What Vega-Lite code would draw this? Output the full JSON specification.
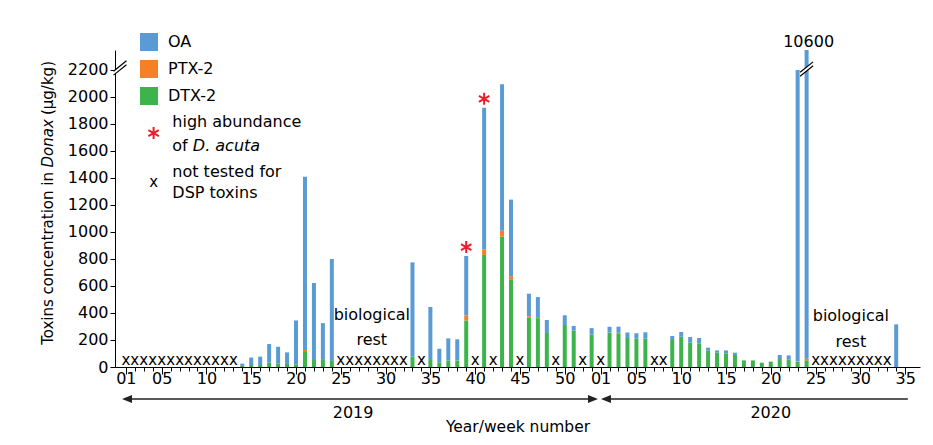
{
  "$schema": "https://vega.github.io/schema/vega-lite/v6.json",
  "width": 805,
  "height": 317,
  "autosize": {"type": "none"},
  "padding": {"left": 115, "top": 50, "right": 13, "bottom": 78},
  "background": "white",
  "config": {
    "font": "DejaVu Sans",
    "view": {"stroke": null},
    "text": {"color": "black"},
    "axis": {"domainColor": "black", "tickColor": "black", "labelColor": "black", "titleColor": "black", "grid": false, "labelFontSize": 16, "domainWidth": 1, "tickWidth": 1, "labelOverlap": false, "labelFlush": false}
  },
  "datasets": {
    "bars": [
      {"year": 2019, "week": 14, "t": 14, "dtx2_top": 8, "ptx2_top": 8, "total": 25},
      {"year": 2019, "week": 15, "t": 15, "dtx2_top": 15, "ptx2_top": 15, "total": 70},
      {"year": 2019, "week": 16, "t": 16, "dtx2_top": 15, "ptx2_top": 15, "total": 77},
      {"year": 2019, "week": 17, "t": 17, "dtx2_top": 33, "ptx2_top": 33, "total": 170},
      {"year": 2019, "week": 18, "t": 18, "dtx2_top": 27, "ptx2_top": 27, "total": 150},
      {"year": 2019, "week": 19, "t": 19, "dtx2_top": 22, "ptx2_top": 22, "total": 108},
      {"year": 2019, "week": 20, "t": 20, "dtx2_top": 20, "ptx2_top": 20, "total": 345},
      {"year": 2019, "week": 21, "t": 21, "dtx2_top": 118, "ptx2_top": 126, "total": 1410},
      {"year": 2019, "week": 22, "t": 22, "dtx2_top": 52, "ptx2_top": 52, "total": 622},
      {"year": 2019, "week": 23, "t": 23, "dtx2_top": 58, "ptx2_top": 58, "total": 325},
      {"year": 2019, "week": 24, "t": 24, "dtx2_top": 45, "ptx2_top": 45, "total": 800},
      {"year": 2019, "week": 33, "t": 33, "dtx2_top": 76, "ptx2_top": 76, "total": 775},
      {"year": 2019, "week": 35, "t": 35, "dtx2_top": 52, "ptx2_top": 52, "total": 445},
      {"year": 2019, "week": 36, "t": 36, "dtx2_top": 35, "ptx2_top": 35, "total": 135},
      {"year": 2019, "week": 37, "t": 37, "dtx2_top": 48, "ptx2_top": 48, "total": 212},
      {"year": 2019, "week": 38, "t": 38, "dtx2_top": 48, "ptx2_top": 48, "total": 205},
      {"year": 2019, "week": 39, "t": 39, "dtx2_top": 345, "ptx2_top": 382, "total": 822, "acuta": true},
      {"year": 2019, "week": 41, "t": 41, "dtx2_top": 830, "ptx2_top": 872, "total": 1920, "acuta": true},
      {"year": 2019, "week": 43, "t": 43, "dtx2_top": 965, "ptx2_top": 1010, "total": 2095},
      {"year": 2019, "week": 44, "t": 44, "dtx2_top": 645, "ptx2_top": 673, "total": 1240},
      {"year": 2019, "week": 46, "t": 46, "dtx2_top": 368, "ptx2_top": 376, "total": 543},
      {"year": 2019, "week": 47, "t": 47, "dtx2_top": 362, "ptx2_top": 370, "total": 518},
      {"year": 2019, "week": 48, "t": 48, "dtx2_top": 252, "ptx2_top": 252, "total": 348},
      {"year": 2019, "week": 50, "t": 50, "dtx2_top": 311, "ptx2_top": 311, "total": 383},
      {"year": 2019, "week": 51, "t": 51, "dtx2_top": 270, "ptx2_top": 270, "total": 304},
      {"year": 2019, "week": 53, "t": 53, "dtx2_top": 240, "ptx2_top": 240, "total": 288},
      {"year": 2020, "week": 2, "t": 55, "dtx2_top": 252, "ptx2_top": 255, "total": 298},
      {"year": 2020, "week": 3, "t": 56, "dtx2_top": 250, "ptx2_top": 253, "total": 299},
      {"year": 2020, "week": 4, "t": 57, "dtx2_top": 215, "ptx2_top": 215, "total": 256},
      {"year": 2020, "week": 5, "t": 58, "dtx2_top": 212, "ptx2_top": 212, "total": 250},
      {"year": 2020, "week": 6, "t": 59, "dtx2_top": 212, "ptx2_top": 212, "total": 257},
      {"year": 2020, "week": 9, "t": 62, "dtx2_top": 200, "ptx2_top": 200, "total": 230},
      {"year": 2020, "week": 10, "t": 63, "dtx2_top": 224, "ptx2_top": 224, "total": 259},
      {"year": 2020, "week": 11, "t": 64, "dtx2_top": 180, "ptx2_top": 180, "total": 222},
      {"year": 2020, "week": 12, "t": 65, "dtx2_top": 175, "ptx2_top": 175, "total": 215},
      {"year": 2020, "week": 13, "t": 66, "dtx2_top": 121, "ptx2_top": 121, "total": 143},
      {"year": 2020, "week": 14, "t": 67, "dtx2_top": 106, "ptx2_top": 106, "total": 123},
      {"year": 2020, "week": 15, "t": 68, "dtx2_top": 101, "ptx2_top": 101, "total": 123},
      {"year": 2020, "week": 16, "t": 69, "dtx2_top": 89, "ptx2_top": 89, "total": 106},
      {"year": 2020, "week": 17, "t": 70, "dtx2_top": 49, "ptx2_top": 49, "total": 49},
      {"year": 2020, "week": 18, "t": 71, "dtx2_top": 49, "ptx2_top": 49, "total": 49},
      {"year": 2020, "week": 19, "t": 72, "dtx2_top": 32, "ptx2_top": 32, "total": 32},
      {"year": 2020, "week": 20, "t": 73, "dtx2_top": 40, "ptx2_top": 40, "total": 40},
      {"year": 2020, "week": 21, "t": 74, "dtx2_top": 59, "ptx2_top": 59, "total": 89},
      {"year": 2020, "week": 22, "t": 75, "dtx2_top": 57, "ptx2_top": 57, "total": 86},
      {"year": 2020, "week": 23, "t": 76, "dtx2_top": 40, "ptx2_top": 40, "total": 2200},
      {"year": 2020, "week": 24, "t": 77, "dtx2_top": 50, "ptx2_top": 62, "total": 10600},
      {"year": 2020, "week": 34, "t": 87, "dtx2_top": 0, "ptx2_top": 0, "total": 316}
    ],
    "untested": [
      {"year": 2019, "week": 1, "t": 1}, {"year": 2019, "week": 2, "t": 2}, {"year": 2019, "week": 3, "t": 3},
      {"year": 2019, "week": 4, "t": 4}, {"year": 2019, "week": 5, "t": 5}, {"year": 2019, "week": 6, "t": 6},
      {"year": 2019, "week": 7, "t": 7}, {"year": 2019, "week": 8, "t": 8}, {"year": 2019, "week": 9, "t": 9},
      {"year": 2019, "week": 10, "t": 10}, {"year": 2019, "week": 11, "t": 11}, {"year": 2019, "week": 12, "t": 12},
      {"year": 2019, "week": 13, "t": 13},
      {"year": 2019, "week": 25, "t": 25}, {"year": 2019, "week": 26, "t": 26}, {"year": 2019, "week": 27, "t": 27},
      {"year": 2019, "week": 28, "t": 28}, {"year": 2019, "week": 29, "t": 29}, {"year": 2019, "week": 30, "t": 30},
      {"year": 2019, "week": 31, "t": 31}, {"year": 2019, "week": 32, "t": 32},
      {"year": 2019, "week": 34, "t": 34}, {"year": 2019, "week": 40, "t": 40}, {"year": 2019, "week": 42, "t": 42},
      {"year": 2019, "week": 45, "t": 45}, {"year": 2019, "week": 49, "t": 49}, {"year": 2019, "week": 52, "t": 52},
      {"year": 2020, "week": 1, "t": 54}, {"year": 2020, "week": 7, "t": 60}, {"year": 2020, "week": 8, "t": 61},
      {"year": 2020, "week": 25, "t": 78}, {"year": 2020, "week": 26, "t": 79}, {"year": 2020, "week": 27, "t": 80},
      {"year": 2020, "week": 28, "t": 81}, {"year": 2020, "week": 29, "t": 82}, {"year": 2020, "week": 30, "t": 83},
      {"year": 2020, "week": 31, "t": 84}, {"year": 2020, "week": 32, "t": 85}, {"year": 2020, "week": 33, "t": 86}
    ]
  },
  "layer": [
    {
      "data": {"name": "bars"},
      "mark": {"type": "bar", "orient": "vertical", "width": 4},
      "encoding": {
        "x": {
          "field": "t", "type": "quantitative", "title": "Year/week number",
          "scale": {"domain": [0.35, 89.1], "nice": false, "zero": false},
          "axis": {
            "values": [1,2,3,4,5,6,7,8,9,10,11,12,13,14,15,16,17,18,19,20,21,22,23,24,25,26,27,28,29,30,31,32,33,34,35,36,37,38,39,40,41,42,43,44,45,46,47,48,49,50,51,52,53,54,55,56,57,58,59,60,61,62,63,64,65,66,67,68,69,70,71,72,73,74,75,76,77,78,79,80,81,82,83,84,85,86,87,88],
            "tickCount": 500,
            "labelExpr": "indexof([1,5,10,15,20,25,30,35,40,45,50,54,58,63,68,73,78,83,88], datum.value) < 0 ? '' : ((datum.value > 53 ? datum.value - 53 : datum.value) < 10 ? '0' : '') + (datum.value > 53 ? datum.value - 53 : datum.value)",
            "tickSize": {"condition": {"test": "indexof([1,5,10,15,20,25,30,35,40,45,50,54,58,63,68,73,78,83,88], datum.value) >= 0", "value": 7}, "value": 4},
            "labelPadding": -4,
            "labelOverlap": false,
            "labelFlush": false,
            "labelFontSize": 16,
            "title": "Year/week number",
            "titleFontSize": 15.5,
            "titleFontWeight": "normal",
            "titlePadding": 33
          }
        },
        "y": {
          "field": "dtx2_top", "type": "quantitative", "title": null,
          "scale": {"domain": [0, 2348], "nice": false},
          "axis": {"values": [0,200,400,600,800,1000,1200,1400,1600,1800,2000,2200], "tickCount": 100, "format": "d", "labelOverlap": false, "tickSize": 5, "labelPadding": 2, "title": null, "labelFontSize": 16}
        },
        "y2": {"datum": 0},
        "color": {
          "datum": "DTX-2", "type": "nominal",
          "scale": {"domain": ["OA", "PTX-2", "DTX-2"], "range": ["#5b9bd5", "#f58025", "#3cb44b"]},
          "legend": {"orient": "none", "legendX": 25, "legendY": -17, "direction": "vertical", "title": null, "symbolType": "square", "symbolSize": 324, "symbolStrokeWidth": 0, "symbolOpacity": 1, "labelFontSize": 16, "labelColor": "black", "labelOffset": 10, "rowPadding": 9, "padding": 0}
        }
      }
    },
    {
      "data": {"name": "bars"},
      "mark": {"type": "bar", "orient": "vertical", "width": 4},
      "encoding": {
        "x": {"field": "t", "type": "quantitative", "title": "Year/week number"},
        "y": {"field": "dtx2_top", "type": "quantitative", "title": null},
        "y2": {"field": "ptx2_top"},
        "color": {"datum": "PTX-2", "type": "nominal"}
      }
    },
    {
      "data": {"name": "bars"},
      "mark": {"type": "bar", "orient": "vertical", "width": 4, "clip": true},
      "encoding": {
        "x": {"field": "t", "type": "quantitative", "title": "Year/week number"},
        "y": {"field": "ptx2_top", "type": "quantitative", "title": null},
        "y2": {"field": "total"},
        "color": {"datum": "OA", "type": "nominal"}
      }
    },
    {
      "data": {"name": "untested"},
      "mark": {"type": "text", "text": "x", "fontSize": 15, "baseline": "alphabetic", "dy": -2},
      "encoding": {
        "x": {"field": "t", "type": "quantitative", "title": "Year/week number"},
        "y": {"datum": 0}
      }
    },
    {
      "data": {"name": "bars"},
      "transform": [{"filter": "datum.acuta === true"}],
      "mark": {"type": "point", "shape": "M0,-1L0,1M-0.87,-0.5L0.87,0.5M-0.87,0.5L0.87,-0.5", "filled": false, "stroke": "#e8202a", "strokeWidth": 2, "size": 144, "opacity": 1, "yOffset": -9},
      "encoding": {
        "x": {"field": "t", "type": "quantitative", "title": "Year/week number"},
        "y": {"field": "total", "type": "quantitative", "title": null}
      }
    },
    {
      "data": {"name": "bars"},
      "transform": [{"filter": "datum.total > 2348"}],
      "mark": {"type": "text", "fontSize": 16, "baseline": "alphabetic", "dy": -3, "dx": 2},
      "encoding": {
        "x": {"field": "t", "type": "quantitative", "title": "Year/week number"},
        "y": {"datum": 2348},
        "text": {"field": "total", "type": "quantitative", "format": "d"}
      }
    },
    {
      "data": {"values": [{}]},
      "mark": {"type": "text", "text": "biological", "fontSize": 16, "baseline": "alphabetic"},
      "encoding": {"x": {"datum": 28.46}, "y": {"datum": 348}}
    },
    {
      "data": {"values": [{}]},
      "mark": {"type": "text", "text": "rest", "fontSize": 16, "baseline": "alphabetic"},
      "encoding": {"x": {"datum": 28.46}, "y": {"datum": 163}}
    },
    {
      "data": {"values": [{}]},
      "mark": {"type": "text", "text": "biological", "fontSize": 16, "baseline": "alphabetic"},
      "encoding": {"x": {"datum": 81.94}, "y": {"datum": 338}}
    },
    {
      "data": {"values": [{}]},
      "mark": {"type": "text", "text": "rest", "fontSize": 16, "baseline": "alphabetic"},
      "encoding": {"x": {"datum": 81.94}, "y": {"datum": 150}}
    },
    {
      "data": {"values": [{}]},
      "mark": {"type": "point", "shape": "M0,-1L0,1M-0.87,-0.5L0.87,0.5M-0.87,0.5L0.87,-0.5", "filled": false, "stroke": "#e8202a", "strokeWidth": 2, "size": 144, "opacity": 1},
      "encoding": {"x": {"datum": 4.1}, "y": {"datum": 1733}}
    },
    {
      "data": {"values": [{}]},
      "mark": {"type": "text", "text": "x", "fontSize": 15, "baseline": "alphabetic"},
      "encoding": {"x": {"datum": 4.1}, "y": {"datum": 1333}}
    },
    {
      "data": {"values": [{}]},
      "mark": {"type": "text", "text": "high abundance", "fontSize": 16, "baseline": "middle", "align": "left"},
      "encoding": {"x": {"datum": 6.19}, "y": {"datum": 1815}}
    },
    {
      "data": {"values": [{}]},
      "mark": {"type": "text", "text": "of", "fontSize": 16, "baseline": "middle", "align": "left"},
      "encoding": {"x": {"datum": 6.19}, "y": {"datum": 1640}}
    },
    {
      "data": {"values": [{}]},
      "mark": {"type": "text", "text": "D. acuta", "fontSize": 16, "fontStyle": "italic", "baseline": "middle", "align": "left", "dx": 20.5},
      "encoding": {"x": {"datum": 6.19}, "y": {"datum": 1640}}
    },
    {
      "data": {"values": [{}]},
      "mark": {"type": "text", "text": "not tested for", "fontSize": 16, "baseline": "middle", "align": "left"},
      "encoding": {"x": {"datum": 6.19}, "y": {"datum": 1444}}
    },
    {
      "data": {"values": [{}]},
      "mark": {"type": "text", "text": "DSP toxins", "fontSize": 16, "baseline": "middle", "align": "left"},
      "encoding": {"x": {"datum": 6.19}, "y": {"datum": 1289}}
    },
    {
      "data": {"values": [{}]},
      "mark": {"type": "text", "text": "Toxins concentration in", "fontSize": 15, "angle": 270, "baseline": "middle", "align": "right"},
      "encoding": {"x": {"datum": -7.65}, "y": {"datum": 1444}}
    },
    {
      "data": {"values": [{}]},
      "mark": {"type": "text", "text": "Donax", "fontSize": 15, "fontStyle": "italic", "angle": 270, "baseline": "middle", "align": "left", "dx": 4.5},
      "encoding": {"x": {"datum": -7.65}, "y": {"datum": 1444}}
    },
    {
      "data": {"values": [{}]},
      "mark": {"type": "text", "text": "(µg/kg)", "fontSize": 15, "angle": 270, "baseline": "middle", "align": "left", "dx": 57},
      "encoding": {"x": {"datum": -7.65}, "y": {"datum": 1444}}
    },
    {
      "data": {"values": [{}]},
      "mark": {"type": "rule", "color": "#222222", "strokeWidth": 1.5},
      "encoding": {"x": {"datum": 0.9}, "x2": {"datum": 53.4}, "y": {"datum": -237}}
    },
    {
      "data": {"values": [{}]},
      "mark": {"type": "rule", "color": "#222222", "strokeWidth": 1.5},
      "encoding": {"x": {"datum": 54.4}, "x2": {"datum": 88.3}, "y": {"datum": -237}}
    },
    {
      "data": {"values": [{}]},
      "mark": {"type": "point", "shape": "M0,0L2,-0.8L2,0.8Z", "filled": true, "fill": "#222222", "strokeWidth": 0, "size": 100, "opacity": 1},
      "encoding": {"x": {"datum": 0.57}, "y": {"datum": -237}}
    },
    {
      "data": {"values": [{}]},
      "mark": {"type": "point", "shape": "M0,0L-2,-0.8L-2,0.8Z", "filled": true, "fill": "#222222", "strokeWidth": 0, "size": 100, "opacity": 1},
      "encoding": {"x": {"datum": 53.71}, "y": {"datum": -237}}
    },
    {
      "data": {"values": [{}]},
      "mark": {"type": "point", "shape": "M0,0L2,-0.8L2,0.8Z", "filled": true, "fill": "#222222", "strokeWidth": 0, "size": 100, "opacity": 1},
      "encoding": {"x": {"datum": 54.04}, "y": {"datum": -237}}
    },
    {
      "data": {"values": [{}]},
      "mark": {"type": "text", "text": "2019", "fontSize": 16, "baseline": "middle"},
      "encoding": {"x": {"datum": 26.37}, "y": {"datum": -341}}
    },
    {
      "data": {"values": [{}]},
      "mark": {"type": "text", "text": "2020", "fontSize": 16, "baseline": "middle"},
      "encoding": {"x": {"datum": 73.0}, "y": {"datum": -341}}
    },
    {
      "data": {"values": [{}]},
      "mark": {"type": "point", "shape": "M-1,0.5L1,-1.1L1,-0.5L-1,1.1Z", "filled": true, "fill": "white", "strokeWidth": 0, "size": 169, "opacity": 1},
      "encoding": {"x": {"datum": 0.35}, "y": {"datum": 2215}}
    },
    {
      "data": {"values": [{}]},
      "mark": {"type": "point", "shape": "M-1,0.5L1,-1.1M-1,1.1L1,-0.5", "filled": false, "stroke": "black", "strokeWidth": 1.2, "size": 169, "opacity": 1},
      "encoding": {"x": {"datum": 0.35}, "y": {"datum": 2215}}
    },
    {
      "data": {"values": [{}]},
      "mark": {"type": "point", "shape": "M-1,0.5L1,-1.1L1,-0.5L-1,1.1Z", "filled": true, "fill": "white", "strokeWidth": 0, "size": 169, "opacity": 1},
      "encoding": {"x": {"datum": 77.0}, "y": {"datum": 2207}}
    },
    {
      "data": {"values": [{}]},
      "mark": {"type": "point", "shape": "M-1,0.5L1,-1.1M-1,1.1L1,-0.5", "filled": false, "stroke": "black", "strokeWidth": 1.2, "size": 169, "opacity": 1},
      "encoding": {"x": {"datum": 77.0}, "y": {"datum": 2207}}
    }
  ]
}
